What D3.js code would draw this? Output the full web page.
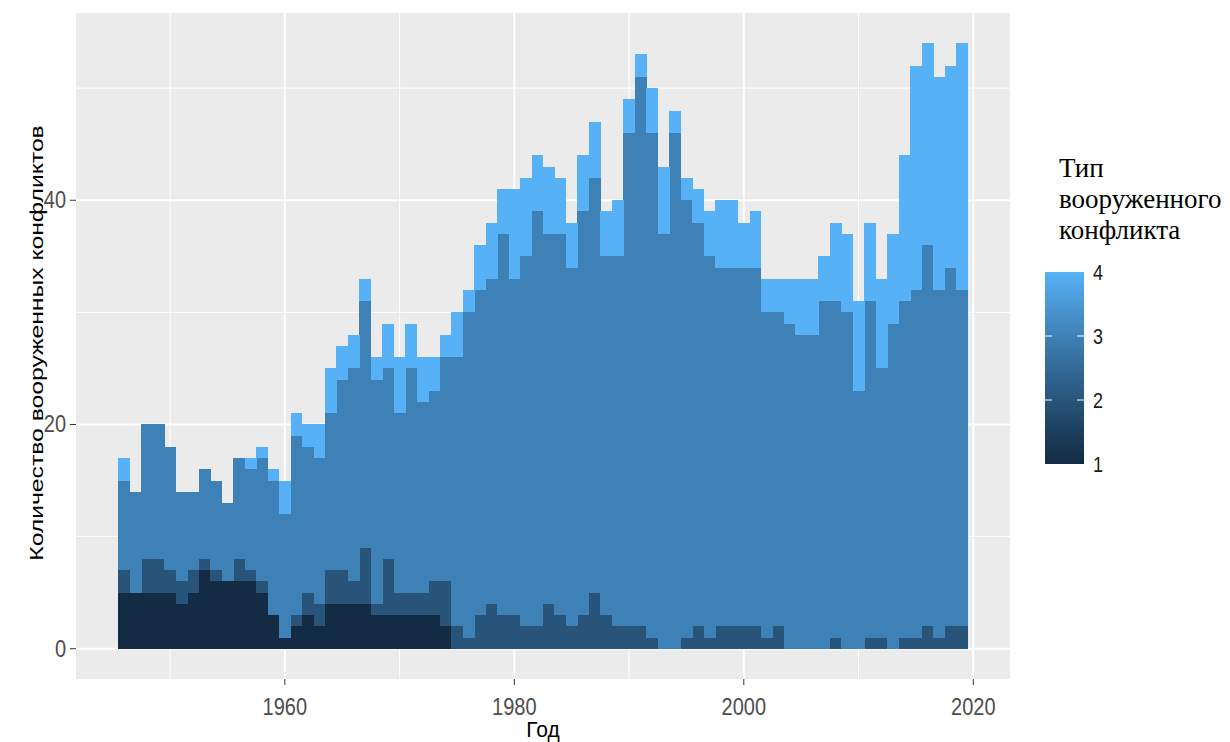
<!DOCTYPE html>
<html>
<head>
<meta charset="utf-8">
<script src="https://cdn.jsdelivr.net/npm/d3@7"></script>
<style>
  body { margin: 0; background: #fff; }
  text { font-family: "Liberation Sans", Arial, sans-serif; }
</style>
</head>
<body>
<svg id="chart"></svg>
<script>
// years 1946..2019, one bin per year
const years = d3.range(1946, 2020);

// number of conflicts per year by type (1 = extrasystemic ... 4 = internationalized)
const type1 = [5,5,5,5,5,4,5,7,6,6,6,6,5,3,1,2,3,2,4,4,4,4,3,3,3,3,3,3,2,0,
  0,0,0,0,0,0,0,0,0,0,0,0,0,0,0,0,0,0,0,0,0,0,0,0,0,0,0,0,0,0,
  0,0,0,0,0,0,0,0,0,0,0,0,0,0];
const type2 = [2,0,3,3,2,2,2,1,1,0,2,1,1,0,0,1,2,2,3,3,2,5,1,5,2,2,2,3,4,2,
  1,3,4,3,3,2,2,4,3,2,3,5,3,2,2,2,1,0,0,1,2,1,2,2,2,2,1,2,0,0,
  0,0,1,0,0,1,1,0,1,1,2,1,2,2];
const type3 = [8,9,12,12,11,8,7,8,8,7,9,9,11,12,11,16,13,13,14,17,19,22,20,17,16,20,17,17,20,24,
  29,29,29,34,30,33,37,33,34,32,36,37,32,33,44,49,45,37,46,39,36,34,32,32,32,32,29,28,29,28,
  28,31,30,30,23,30,24,29,30,31,34,31,32,30];
const type4 = [2,0,0,0,0,0,0,0,0,0,0,1,1,1,3,2,2,3,4,3,3,2,2,4,5,4,4,3,2,4,
  2,4,5,4,8,7,5,6,5,4,5,5,4,5,3,2,4,6,2,2,3,4,6,6,4,5,3,3,4,5,
  5,4,7,7,8,7,8,8,13,20,18,19,18,22];

const typeKeys = ['t1', 't2', 't3', 't4'];
const typeValues = [1, 2, 3, 4];
const yTicks = [0, 20, 40];
const yMinor = [10, 30, 50];
const xTicks = [1960, 1980, 2000, 2020];
const xMinor = [1950, 1970, 1990, 2010];
const legendTitle = ['Тип', 'вооруженного', 'конфликта'];

const rows = years.map((yr, i) => ({ year: yr, t1: type1[i], t2: type2[i], t3: type3[i], t4: type4[i] }));

const W = 1230, H = 742;
const panel = { left: 76, right: 1010, top: 13, bottom: 679 };

const svg = d3.select('#chart').attr('width', W).attr('height', H);
svg.append('rect').attr('width', W).attr('height', H).attr('fill', '#fff');

const x = d3.scaleLinear().domain([1941.8, 2023.2]).range([panel.left, panel.right]);
const y = d3.scaleLinear().domain([-2.7, 56.7]).range([panel.bottom, panel.top]);

const fillScale = d3.scaleLinear().domain([1, 4])
  .range(['#132B43', '#56B1F7']).interpolate(d3.interpolateLab);

// panel background
svg.append('rect')
  .attr('x', panel.left).attr('y', panel.top)
  .attr('width', panel.right - panel.left).attr('height', panel.bottom - panel.top)
  .attr('fill', '#EBEBEB');

// grid
const grid = svg.append('g');
grid.selectAll('.ymin').data(yMinor).enter().append('line')
  .attr('x1', panel.left).attr('x2', panel.right)
  .attr('y1', d => y(d)).attr('y2', d => y(d))
  .attr('stroke', '#fff').attr('stroke-width', 1);
grid.selectAll('.xmin').data(xMinor).enter().append('line')
  .attr('y1', panel.top).attr('y2', panel.bottom)
  .attr('x1', d => x(d)).attr('x2', d => x(d))
  .attr('stroke', '#fff').attr('stroke-width', 1);
grid.selectAll('.ymaj').data(yTicks).enter().append('line')
  .attr('x1', panel.left).attr('x2', panel.right)
  .attr('y1', d => y(d)).attr('y2', d => y(d))
  .attr('stroke', '#fff').attr('stroke-width', 2);
grid.selectAll('.xmaj').data(xTicks).enter().append('line')
  .attr('y1', panel.top).attr('y2', panel.bottom)
  .attr('x1', d => x(d)).attr('x2', d => x(d))
  .attr('stroke', '#fff').attr('stroke-width', 2);

// stacked histogram bars
const stacked = d3.stack().keys(typeKeys)(rows);
svg.append('g').selectAll('g')
  .data(stacked)
  .enter().append('g')
  .attr('fill', (d, i) => fillScale(typeValues[i]))
  .selectAll('rect')
  .data(d => d.filter(s => s[1] > s[0]))
  .enter().append('rect')
  .attr('x', d => x(d.data.year - 0.5))
  .attr('width', d => x(d.data.year + 0.5) - x(d.data.year - 0.5) + 0.4)
  .attr('y', d => y(d[1]))
  .attr('height', d => y(d[0]) - y(d[1]))
  .attr('shape-rendering', 'crispEdges');

// y axis
const yAxis = svg.append('g');
yAxis.selectAll('line').data(yTicks).enter().append('line')
  .attr('x1', panel.left - 6).attr('x2', panel.left)
  .attr('y1', d => y(d)).attr('y2', d => y(d))
  .attr('stroke', '#333').attr('stroke-width', 1);
yAxis.selectAll('text').data(yTicks).enter().append('text')
  .attr('transform', d => `translate(${panel.left - 10},${y(d) + 8}) scale(1,1.2)`)
  .attr('text-anchor', 'end')
  .attr('font-size', 20)
  .attr('fill', '#4D4D4D')
  .text(d => d);

// x axis
const xAxis = svg.append('g');
xAxis.selectAll('line').data(xTicks).enter().append('line')
  .attr('x1', d => x(d)).attr('x2', d => x(d))
  .attr('y1', panel.bottom).attr('y2', panel.bottom + 6)
  .attr('stroke', '#333').attr('stroke-width', 1);
xAxis.selectAll('text').data(xTicks).enter().append('text')
  .attr('transform', d => `translate(${x(d)},${panel.bottom + 36}) scale(1,1.2)`)
  .attr('text-anchor', 'middle')
  .attr('font-size', 20)
  .attr('fill', '#4D4D4D')
  .text(d => d);

// axis titles
svg.append('text')
  .attr('transform', `translate(${(panel.left + panel.right) / 2},737) scale(1,1.05)`)
  .attr('text-anchor', 'middle')
  .attr('font-size', 21)
  .attr('fill', '#000')
  .text('Год');

svg.append('text')
  .attr('transform', `translate(43,${(panel.top + panel.bottom) / 2 - 3}) rotate(-90) scale(1.3,1)`)
  .attr('text-anchor', 'middle')
  .attr('font-size', 19)
  .attr('fill', '#000')
  .text('Количество вооруженных конфликтов');

// legend
const legend = svg.append('g');
legend.selectAll('text.title').data(legendTitle).enter().append('text')
  .attr('class', 'title')
  .attr('x', 1059)
  .attr('y', (d, i) => 177 + i * 31)
  .style('font-family', '"Liberation Serif", "Times New Roman", serif')
  .attr('font-size', 27)
  .attr('fill', '#000')
  .text(d => d);

const bar = { x: 1045, w: 39, top: 272, bottom: 464 };
const barScale = d3.scaleLinear().domain([1, 4]).range([bar.bottom, bar.top]);

const defs = svg.append('defs');
const grad = defs.append('linearGradient').attr('id', 'cbar')
  .attr('x1', 0).attr('x2', 0).attr('y1', 1).attr('y2', 0);
d3.range(0, 1.0001, 0.1).forEach(t => {
  grad.append('stop').attr('offset', t).attr('stop-color', fillScale(1 + 3 * t));
});
legend.append('rect')
  .attr('x', bar.x).attr('y', bar.top)
  .attr('width', bar.w).attr('height', bar.bottom - bar.top)
  .attr('fill', 'url(#cbar)');

legend.selectAll('g.tk').data([2, 3]).enter().append('g')
  .attr('class', 'tk')
  .each(function (d) {
    const g = d3.select(this);
    g.append('line').attr('x1', bar.x).attr('x2', bar.x + 7)
      .attr('y1', barScale(d)).attr('y2', barScale(d))
      .attr('stroke', '#fff').attr('stroke-width', 1);
    g.append('line').attr('x1', bar.x + bar.w - 7).attr('x2', bar.x + bar.w)
      .attr('y1', barScale(d)).attr('y2', barScale(d))
      .attr('stroke', '#fff').attr('stroke-width', 1);
  });

legend.selectAll('text.lab').data(typeValues).enter().append('text')
  .attr('class', 'lab')
  .attr('transform', d => `translate(${bar.x + bar.w + 9},${barScale(d) + 8}) scale(1,1.25)`)
  .attr('font-size', 18)
  .attr('fill', '#1A1A1A')
  .text(d => d);
</script>
</body>
</html>
